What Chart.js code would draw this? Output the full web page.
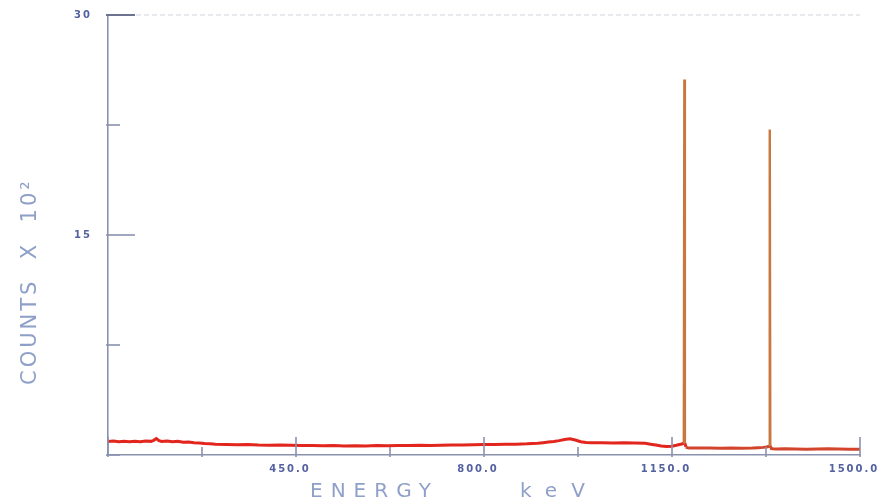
<!DOCTYPE html>
<html>
<head>
<meta charset="utf-8">
<title>Gamma spectrum</title>
<script src="https://cdn.jsdelivr.net/npm/chart.js@4.4.1/dist/chart.umd.min.js"></script>
<style>
    html, body { margin: 0; padding: 0; background: #ffffff; }
    #spectrum { display: block; }
</style>
</head>
<body>
<canvas id="spectrum" width="880" height="501"></canvas>
<script>
// Energy channels (keV) and counts (x 10^2)
var energyKeV = [
    100, 110, 120, 130, 140, 150, 160, 170, 180, 185,
    190, 195, 200, 210, 220, 230, 240, 250, 260, 270,
    280, 290, 300, 320, 340, 360, 380, 400, 420, 440,
    460, 480, 500, 520, 540, 560, 580, 600, 620, 640,
    660, 680, 700, 720, 740, 760, 780, 800, 820, 840,
    860, 880, 900, 910, 920, 930, 940, 950, 960, 970,
    980, 990, 1000, 1020, 1040, 1060, 1080, 1100, 1110, 1120,
    1130, 1140, 1150, 1158, 1164, 1168, 1172, 1173, 1174, 1176,
    1178, 1182, 1200, 1220, 1240, 1260, 1280, 1300, 1310, 1320,
    1326, 1331, 1332, 1333, 1335, 1338, 1344, 1360, 1380, 1400,
    1420, 1440, 1460, 1480, 1500
];
var countsE2 = [
    0.92, 0.95, 0.91, 0.94, 0.90, 0.93, 0.91, 0.95, 0.93, 1.00,
    1.12, 0.98, 0.92, 0.95, 0.90, 0.93, 0.87, 0.89, 0.84, 0.82,
    0.78, 0.76, 0.74, 0.72, 0.70, 0.71, 0.68, 0.67, 0.68, 0.66,
    0.64, 0.65, 0.63, 0.64, 0.62, 0.63, 0.62, 0.64, 0.63, 0.65,
    0.64, 0.66, 0.65, 0.67, 0.68, 0.68, 0.70, 0.72, 0.71, 0.73,
    0.74, 0.76, 0.80, 0.84, 0.88, 0.92, 0.98, 1.06, 1.10, 1.02,
    0.90, 0.86, 0.84, 0.83, 0.82, 0.84, 0.82, 0.80, 0.74, 0.68,
    0.62, 0.58, 0.60, 0.66, 0.72, 0.75, 0.80, 25.6, 0.80, 0.55,
    0.50, 0.48, 0.47, 0.48, 0.46, 0.47, 0.46, 0.47, 0.50, 0.52,
    0.55, 0.60, 22.2, 0.60, 0.44, 0.42, 0.41, 0.42, 0.41, 0.40,
    0.41, 0.42, 0.41, 0.40, 0.40
];

var xTicks = [100, 275, 450, 625, 800, 975, 1150, 1325, 1500];
var xLabelled = [450, 800, 1150, 1500];
var yTicks = [0, 7.5, 15, 22.5, 30];
var yLabelled = [15, 30];

var xTitle = 'ENERGY';
var xUnit = 'keV';
var yTitle = 'COUNTS  X  10²';

var AXIS = '#8a92ae';
var LABEL = '#5462a0';
var TITLE = '#8fa0c8';

// Inward tick marks, dashed top line and the axis titles
var plotterDecor = {
    id: 'plotterDecor',
    beforeDraw: function(chart) {
        // wide plotter lettering for the tick labels
        chart.ctx.letterSpacing = '2px';
    },
    afterDraw: function(chart) {
        var ctx = chart.ctx;
        var xs = chart.scales.x;
        var ys = chart.scales.y;
        var area = chart.chartArea;

        ctx.letterSpacing = '0px';
        ctx.save();

        // faint dashed top line
        var topY = ys.getPixelForValue(30);
        ctx.strokeStyle = 'rgba(150,155,175,0.45)';
        ctx.lineWidth = 1;
        ctx.setLineDash([5, 3]);
        ctx.beginPath();
        ctx.moveTo(area.left + 28, topY);
        ctx.lineTo(area.right, topY);
        ctx.stroke();
        ctx.setLineDash([]);

        yTicks.forEach(function(v) {
            var py = ys.getPixelForValue(v);
            var len = yLabelled.indexOf(v) >= 0 ? 27 : 12;
            ctx.strokeStyle = v === 30 ? '#6c7290' : AXIS;
            ctx.lineWidth = v === 30 ? 2 : 1.6;
            ctx.beginPath();
            ctx.moveTo(area.left - 2, py);
            ctx.lineTo(area.left + len, py);
            ctx.stroke();
        });

        ctx.strokeStyle = AXIS;
        ctx.lineWidth = 1.6;
        xTicks.forEach(function(v) {
            var px = xs.getPixelForValue(v);
            var major = xLabelled.indexOf(v) >= 0 || v === 100;
            ctx.beginPath();
            ctx.moveTo(px, area.bottom + 2);
            ctx.lineTo(px, area.bottom - (major ? 18 : 8));
            ctx.stroke();
        });

        // axis titles
        ctx.fillStyle = TITLE;
        ctx.textBaseline = 'alphabetic';
        ctx.textAlign = 'left';
        ctx.font = '20px "DejaVu Sans"';
        ctx.letterSpacing = '8px';
        ctx.fillText(xTitle, area.left + 202, 497);
        ctx.letterSpacing = '14px';
        ctx.fillText(xUnit, area.left + 412, 497);

        ctx.translate(36, 385);
        ctx.rotate(-Math.PI / 2);
        ctx.font = '21px "DejaVu Sans"';
        ctx.letterSpacing = '3px';
        ctx.fillText(yTitle, 0, 0);

        ctx.restore();
        ctx.letterSpacing = '0px';
    }
};

var points = energyKeV.map(function(e, i) {
    return { x: e, y: countsE2[i] };
});

function isPeak(seg) {
    return seg.p0.parsed.y > 1.5 || seg.p1.parsed.y > 1.5;
}

new Chart(document.getElementById('spectrum'), {
    type: 'line',
    data: {
        datasets: [{
            label: 'Counts',
            data: points,
            borderColor: '#e2261e',
            borderWidth: 3,
            pointRadius: 0,
            tension: 0,
            segment: {
                borderColor: function(seg) {
                    if (isPeak(seg)) return '#c8773e';
                    return seg.p0.parsed.x > 1174 ? '#d2452c' : undefined;
                },
                borderWidth: function(seg) {
                    return isPeak(seg) ? 2.4 : undefined;
                }
            }
        }]
    },
    options: {
        responsive: false,
        animation: false,
        layout: { padding: { top: 15, right: 20, left: 0, bottom: 0 } },
        plugins: {
            legend: { display: false },
            tooltip: { enabled: false }
        },
        scales: {
            x: {
                type: 'linear',
                min: 100,
                max: 1500,
                afterBuildTicks: function(scale) {
                    scale.ticks = xTicks.map(function(v) { return { value: v }; });
                },
                afterFit: function(scale) {
                    scale.height = 46;
                    scale.paddingLeft = 0;
                    scale.paddingRight = 0;
                },
                grid: { display: false },
                border: { color: AXIS, width: 1.6 },
                ticks: {
                    autoSkip: false,
                    maxRotation: 0,
                    padding: 0,
                    labelOffset: -6,
                    color: LABEL,
                    font: { family: 'DejaVu Sans', size: 10, weight: 'bold' },
                    callback: function(value) {
                        return xLabelled.indexOf(value) >= 0 ? value.toFixed(1) : '';
                    }
                }
            },
            y: {
                min: 0,
                max: 30,
                afterBuildTicks: function(scale) {
                    scale.ticks = yTicks.map(function(v) { return { value: v }; });
                },
                afterFit: function(scale) {
                    scale.width = 108;
                    scale.paddingTop = 0;
                    scale.paddingBottom = 0;
                },
                grid: { display: false },
                border: { color: AXIS, width: 1.6 },
                ticks: {
                    autoSkip: false,
                    padding: 8,
                    color: LABEL,
                    font: { family: 'DejaVu Sans', size: 10, weight: 'bold' },
                    callback: function(value) {
                        return yLabelled.indexOf(value) >= 0 ? String(value) : '';
                    }
                }
            }
        }
    },
    plugins: [plotterDecor]
});
</script>
</body>
</html>
